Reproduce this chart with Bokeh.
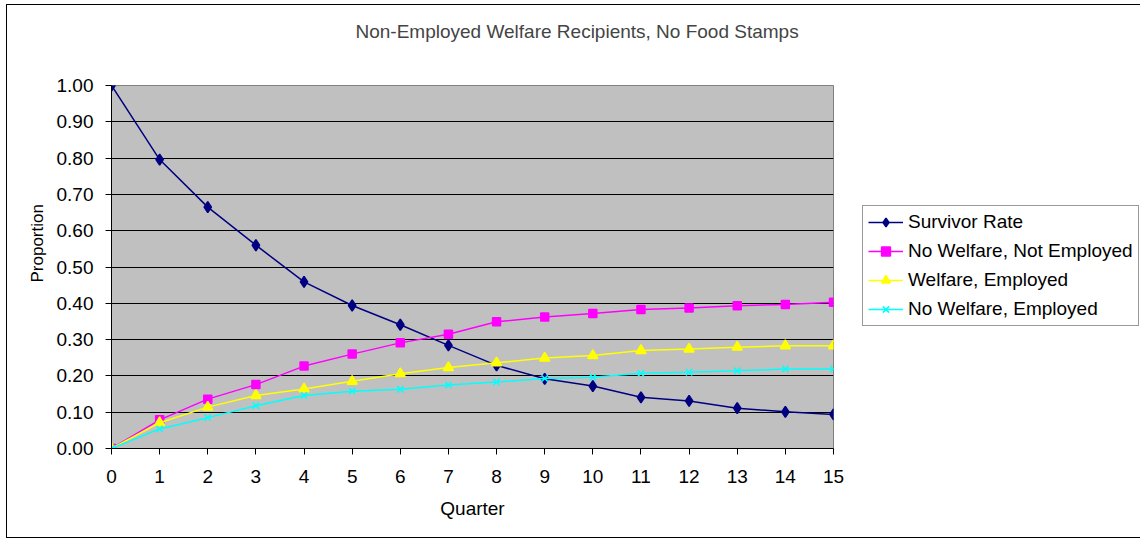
from bokeh.plotting import figure
from bokeh.models import Legend, LegendItem, FixedTicker, NumeralTickFormatter, Range1d, Title
from bokeh.embed import file_html
from bokeh.resources import INLINE

quarters = list(range(16))
survivor_rate = [1.00, 0.796, 0.665, 0.560, 0.459, 0.394, 0.341, 0.284,
                 0.229, 0.192, 0.172, 0.141, 0.131, 0.111, 0.101, 0.094]
no_welfare_not_employed = [0.0, 0.079, 0.136, 0.176, 0.227, 0.260, 0.291, 0.315,
                           0.349, 0.362, 0.372, 0.383, 0.387, 0.393, 0.397, 0.403]
welfare_employed = [0.0, 0.071, 0.114, 0.146, 0.164, 0.185, 0.206, 0.223,
                    0.236, 0.249, 0.256, 0.270, 0.274, 0.279, 0.283, 0.283]
no_welfare_employed = [0.0, 0.054, 0.085, 0.118, 0.146, 0.158, 0.163, 0.175,
                       0.183, 0.193, 0.196, 0.207, 0.210, 0.214, 0.219, 0.219]
y_ticks = [0.0, 0.1, 0.2, 0.3, 0.4, 0.5, 0.6, 0.7, 0.8, 0.9, 1.0]

FONT = "Liberation Sans"
FS = "19px"

p = figure(width=1132, height=532, output_backend="svg", toolbar_location=None,
           x_range=Range1d(0, 15), y_range=Range1d(0, 1.0),
           frame_width=722, frame_height=363,
           min_border_left=104, min_border_right=306,
           min_border_top=80, min_border_bottom=89)
p.margin = (4, 0, 0, 6)
p.styles = {"border": "1px solid black"}

p.title.text = "Non-Employed Welfare Recipients, No Food Stamps"
p.title.align = "left"
p.title.offset = 244
p.title.vertical_align = "top"
p.title.text_font = FONT
p.title.text_font_size = FS
p.title.text_font_style = "normal"
p.title.standoff = 30

# empty spacer between the title and the plot area
spacer = Title(text=" ", text_font_size="1px", standoff=24)
p.add_layout(spacer, "above")

p.background_fill_color = "#C0C0C0"
p.border_fill_color = "white"
p.outline_line_color = "#808080"
p.outline_line_width = 1

p.xgrid.visible = False
p.ygrid.grid_line_color = "black"
p.ygrid.grid_line_width = 1
p.ygrid.ticker = FixedTicker(ticks=y_ticks)

p.xaxis.ticker = FixedTicker(ticks=quarters)
p.yaxis.ticker = FixedTicker(ticks=y_ticks)
p.yaxis.formatter = NumeralTickFormatter(format="0.00")
for ax in (p.xaxis[0], p.yaxis[0]):
    ax.axis_line_color = "black"
    ax.major_tick_line_color = "black"
    ax.major_tick_out = 6
    ax.major_tick_in = 0
    ax.minor_tick_line_color = None
    ax.major_label_text_font = FONT
    ax.major_label_text_font_size = FS
    ax.major_label_text_color = "black"
    ax.axis_label_text_font = FONT
    ax.axis_label_text_font_size = FS
    ax.axis_label_text_font_style = "normal"
    ax.axis_label_text_color = "black"
p.xaxis.axis_label = "Quarter"
p.xaxis.major_label_standoff = 15
p.yaxis.major_label_standoff = 12
p.xaxis.axis_label_standoff = 12

ylab = Title(text="Proportion", align="left", offset=166, standoff=13,
             text_font=FONT, text_font_size="17px", text_font_style="normal",
             text_color="black")
p.add_layout(ylab, "left")

series = [
    ("Survivor Rate", survivor_rate, "#000080", "diamond", 11),
    ("No Welfare, Not Employed", no_welfare_not_employed, "#FF00FF", "square", 8),
    ("Welfare, Employed", welfare_employed, "#FFFF00", "triangle", 10),
    ("No Welfare, Employed", no_welfare_employed, "#00FFFF", "x", 9),
]
items = []
for name, vals, color, marker, size in series:
    ln = p.line(quarters, vals, line_color=color, line_width=1.5)
    sc = p.scatter(quarters, vals, marker=marker, size=size,
                   fill_color=color, line_color=color, line_width=1.5)
    items.append(LegendItem(label=name, renderers=[ln, sc]))

legend = Legend(items=items, location=(29, 122), orientation="vertical")
legend.label_text_font = FONT
legend.label_text_font_size = FS
legend.label_text_color = "black"
legend.border_line_color = "#333333"
legend.border_line_width = 1
legend.background_fill_color = "white"
legend.background_fill_alpha = 1.0
legend.glyph_width = 35
legend.glyph_height = 22
legend.label_height = 22
legend.label_standoff = 5
legend.spacing = 7
legend.padding = 5
legend.margin = 0
p.add_layout(legend, "right")

open("out.html", "w").write(file_html(p, INLINE))
